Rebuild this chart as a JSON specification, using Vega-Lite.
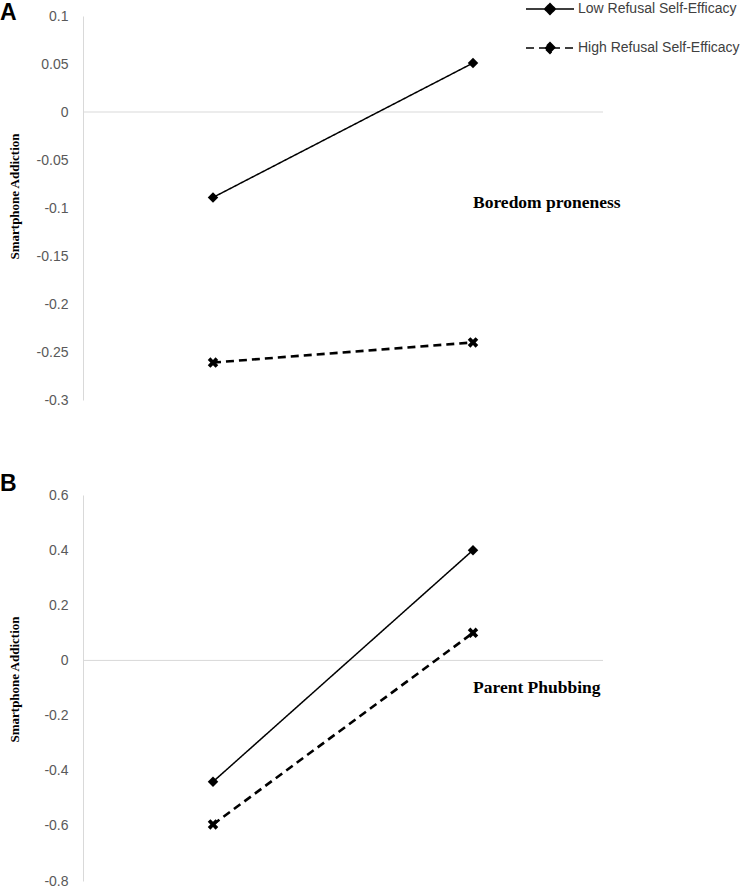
{
  "$schema": "https://vega.github.io/schema/vega-lite/v6.json",
  "padding": {"left": 0, "top": 2, "right": 0, "bottom": 0},
  "background": "white",
  "data": {
    "values": [
      {"panel": "A", "level": "low", "group": "Low Refusal Self-Efficacy", "value": -0.089},
      {"panel": "A", "level": "high", "group": "Low Refusal Self-Efficacy", "value": 0.051},
      {"panel": "A", "level": "low", "group": "High Refusal Self-Efficacy", "value": -0.261},
      {"panel": "A", "level": "high", "group": "High Refusal Self-Efficacy", "value": -0.24},
      {"panel": "B", "level": "low", "group": "Low Refusal Self-Efficacy", "value": -0.44},
      {"panel": "B", "level": "high", "group": "Low Refusal Self-Efficacy", "value": 0.4},
      {"panel": "B", "level": "low", "group": "High Refusal Self-Efficacy", "value": -0.595},
      {"panel": "B", "level": "high", "group": "High Refusal Self-Efficacy", "value": 0.1}
    ]
  },
  "spacing": 66,
  "vconcat": [
    {
      "title": {"text": "A", "anchor": "start", "frame": "bounds", "fontSize": 23, "font": "Liberation Sans", "fontWeight": "bold", "color": "black", "offset": -16, "dx": -8},
      "width": 520,
      "height": 384,
      "transform": [{"filter": "datum.panel == 'A'"}],
      "layer": [
        {
          "data": {"values": [{}]},
          "mark": {"type": "rule", "color": "#d9d9d9", "strokeWidth": 1},
          "encoding": {"y": {"datum": 0, "type": "quantitative"}}
        },
        {
          "mark": {"type": "line", "color": "black"},
          "encoding": {
            "x": {"field": "level", "type": "ordinal", "scale": {"domain": ["low", "high"]}, "axis": null},
            "y": {"field": "value", "type": "quantitative", "scale": {"domain": [-0.3, 0.1], "nice": false, "zero": false}, "axis": {"values": [-0.3, -0.25, -0.2, -0.15, -0.1, -0.05, 0, 0.05, 0.1], "labelExpr": "datum.value + ''", "titleY": 180}, "title": "Smartphone Addiction"},
            "strokeDash": {"field": "group", "type": "nominal", "scale": {"domain": ["Low Refusal Self-Efficacy", "High Refusal Self-Efficacy"], "range": [[1, 0], [8, 5]]},
              "legend": {"title": null, "orient": "none", "legendX": 460, "legendY": -14, "padding": 0, "rowPadding": 21, "symbolType": "M-4,0L4,0M0,-0.9L0.9,0L0,0.9L-0.9,0Z", "symbolSize": 144, "symbolFillColor": "black", "symbolStrokeColor": "black", "symbolStrokeWidth": 1.5, "symbolOpacity": 1, "labelOffset": 21, "labelFont": "Liberation Sans", "labelFontSize": 14, "labelColor": "#404040", "labelLimit": 300}},
            "strokeWidth": {"field": "group", "type": "nominal", "scale": {"range": [2.6, 1.5]}, "legend": null}
          }
        },
        {
          "mark": {"type": "point", "filled": true, "color": "black", "opacity": 1, "size": 110},
          "encoding": {
            "x": {"field": "level", "type": "ordinal", "scale": {"domain": ["low", "high"]}, "axis": null},
            "y": {"field": "value", "type": "quantitative", "scale": {"domain": [-0.3, 0.1], "nice": false, "zero": false}, "axis": {"values": [-0.3, -0.25, -0.2, -0.15, -0.1, -0.05, 0, 0.05, 0.1], "labelExpr": "datum.value + ''", "titleY": 180}, "title": "Smartphone Addiction"},
            "shape": {"field": "group", "type": "nominal", "scale": {"range": ["M-1,-0.5L-0.5,-1L0,-0.5L0.5,-1L1,-0.5L0.5,0L1,0.5L0.5,1L0,0.5L-0.5,1L-1,0.5L-0.5,0Z", "diamond"]}, "legend": null}
          }
        },
        {
          "data": {"values": [{"label": "Boredom proneness"}]},
          "mark": {"type": "text", "font": "Liberation Serif", "fontWeight": "bold", "fontSize": 17.5, "align": "left", "baseline": "middle", "color": "black"},
          "encoding": {
            "x": {"datum": "high", "type": "ordinal"},
            "y": {"datum": -0.095, "type": "quantitative"},
            "text": {"field": "label", "type": "nominal"}
          }
        }
      ]
    },
    {
      "title": {"text": "B", "anchor": "start", "frame": "bounds", "fontSize": 23, "font": "Liberation Sans", "fontWeight": "bold", "color": "black", "offset": -8, "dx": -8},
      "width": 520,
      "height": 386,
      "transform": [{"filter": "datum.panel == 'B'"}],
      "layer": [
        {
          "data": {"values": [{}]},
          "mark": {"type": "rule", "color": "#d9d9d9", "strokeWidth": 1},
          "encoding": {"y": {"datum": 0, "type": "quantitative"}}
        },
        {
          "mark": {"type": "line", "color": "black"},
          "encoding": {
            "x": {"field": "level", "type": "ordinal", "scale": {"domain": ["low", "high"]}, "axis": null},
            "y": {"field": "value", "type": "quantitative", "scale": {"domain": [-0.8, 0.6], "nice": false, "zero": false}, "axis": {"values": [-0.8, -0.6, -0.4, -0.2, 0, 0.2, 0.4, 0.6], "labelExpr": "datum.value + ''", "titleY": 184}, "title": "Smartphone Addiction"},
            "strokeDash": {"field": "group", "type": "nominal", "scale": {"domain": ["Low Refusal Self-Efficacy", "High Refusal Self-Efficacy"], "range": [[1, 0], [8, 5]]},
              "legend": {"title": null, "orient": "none", "legendX": 460, "legendY": -14, "padding": 0, "rowPadding": 21, "symbolType": "M-4,0L4,0M0,-0.9L0.9,0L0,0.9L-0.9,0Z", "symbolSize": 144, "symbolFillColor": "black", "symbolStrokeColor": "black", "symbolStrokeWidth": 1.5, "symbolOpacity": 1, "labelOffset": 21, "labelFont": "Liberation Sans", "labelFontSize": 14, "labelColor": "#404040", "labelLimit": 300}},
            "strokeWidth": {"field": "group", "type": "nominal", "scale": {"range": [2.6, 1.5]}, "legend": null}
          }
        },
        {
          "mark": {"type": "point", "filled": true, "color": "black", "opacity": 1, "size": 110},
          "encoding": {
            "x": {"field": "level", "type": "ordinal", "scale": {"domain": ["low", "high"]}, "axis": null},
            "y": {"field": "value", "type": "quantitative", "scale": {"domain": [-0.8, 0.6], "nice": false, "zero": false}, "axis": {"values": [-0.8, -0.6, -0.4, -0.2, 0, 0.2, 0.4, 0.6], "labelExpr": "datum.value + ''", "titleY": 184}, "title": "Smartphone Addiction"},
            "shape": {"field": "group", "type": "nominal", "scale": {"range": ["M-1,-0.5L-0.5,-1L0,-0.5L0.5,-1L1,-0.5L0.5,0L1,0.5L0.5,1L0,0.5L-0.5,1L-1,0.5L-0.5,0Z", "diamond"]}, "legend": null}
          }
        },
        {
          "data": {"values": [{"label": "Parent Phubbing"}]},
          "mark": {"type": "text", "font": "Liberation Serif", "fontWeight": "bold", "fontSize": 17.5, "align": "left", "baseline": "middle", "color": "black"},
          "encoding": {
            "x": {"datum": "high", "type": "ordinal"},
            "y": {"datum": -0.1, "type": "quantitative"},
            "text": {"field": "label", "type": "nominal"}
          }
        }
      ]
    }
  ],
  "config": {
    "view": {"stroke": null},
    "axisY": {
      "domainColor": "#d9d9d9", "domainWidth": 1, "ticks": false, "tickSize": 0, "grid": false,
      "labelColor": "#595959", "labelFont": "Liberation Sans", "labelFontSize": 14, "labelPadding": 15,
      "titleFont": "Liberation Serif", "titleFontSize": 13, "titleFontWeight": "bold", "titleColor": "black", "titleX": -62
    }
  }
}
